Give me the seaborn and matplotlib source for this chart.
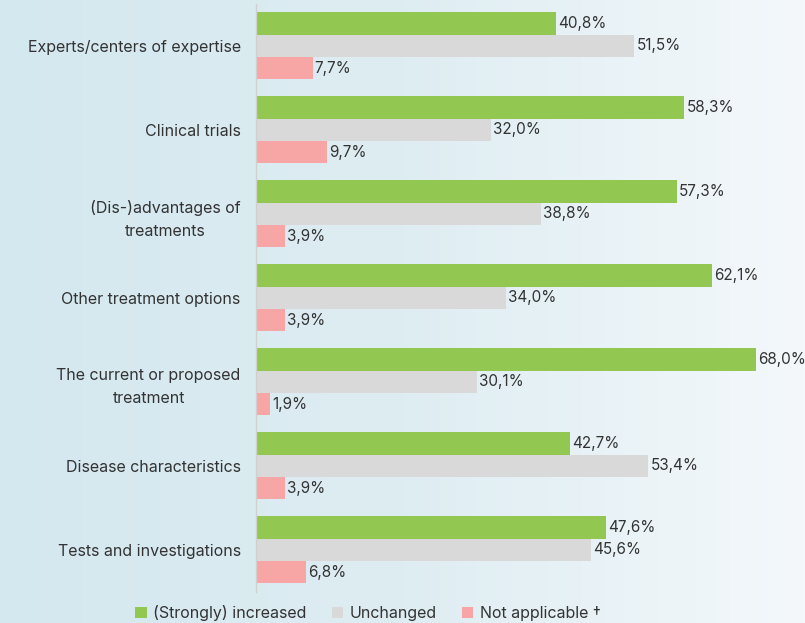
import numpy as np
import pandas as pd
import matplotlib.pyplot as plt
import seaborn as sns
from matplotlib.colors import LinearSegmentedColormap

CATEGORIES = [
    "Experts/centers of expertise",
    "Clinical trials",
    "(Dis-)advantages of\ntreatments",
    "Other treatment options",
    "The current or proposed\ntreatment",
    "Disease characteristics",
    "Tests and investigations",
]
SERIES = ["(Strongly) increased", "Unchanged", "Not applicable \u2020"]
INCREASED = [40.8, 58.3, 57.3, 62.1, 68.0, 42.7, 47.6]
UNCHANGED = [51.5, 32.0, 38.8, 34.0, 30.1, 53.4, 45.6]
NOT_APPLICABLE = [7.7, 9.7, 3.9, 3.9, 1.9, 3.9, 6.8]
COLORS = ["#92c852", "#d9d9d9", "#f8a5a5"]

df = pd.DataFrame({
    "category": CATEGORIES * 3,
    "series": [s for s in SERIES for _ in CATEGORIES],
    "value": INCREASED + UNCHANGED + NOT_APPLICABLE,
})

sns.set_theme(style="white")
plt.rcParams["font.family"] = ["Inter", "DejaVu Sans"]
text_color = "#333333"

fig = plt.figure(figsize=(8.05, 6.23), dpi=100)

# background gradient
bg = fig.add_axes([0, 0, 1, 1], zorder=-10)
grad = np.linspace(0, 1, 256).reshape(1, -1)
bg_cmap = LinearSegmentedColormap.from_list("bg", ["#d4e8ef", "#deedf2", "#f4f8fb"])
bg.imshow(grad, aspect="auto", cmap=bg_cmap, extent=[0, 1, 0, 1])
bg.axis("off")

ax = fig.add_axes([0.318, 0.050, 0.682, 0.944])
ax.patch.set_alpha(0)

sns.barplot(
    data=df,
    y="category",
    x="value",
    hue="series",
    hue_order=SERIES,
    order=CATEGORIES,
    palette=COLORS,
    orient="h",
    width=0.8,
    saturation=1,
    linewidth=0,
    ax=ax,
    legend=True,
)

for container in ax.containers:
    labels = [f"{v:.1f}%".replace(".", ",") for v in container.datavalues]
    ax.bar_label(container, labels=labels, padding=1.5, fontsize=11, color=text_color)

ax.set_xlim(0, 74.7)
ax.set_ylim(6.5, -0.5)
ax.set_xlabel("")
ax.set_ylabel("")
ax.set_xticks([])
ax.tick_params(axis="y", length=0, pad=11, labelsize=11.5, labelcolor=text_color)
for lbl in ax.get_yticklabels():
    lbl.set_multialignment("center")
    lbl.set_linespacing(1.65)

for side in ["top", "right", "bottom"]:
    ax.spines[side].set_visible(False)
ax.spines["left"].set_color("#d0d0d0")
ax.spines["left"].set_linewidth(1)

handles, labels = ax.get_legend_handles_labels()
ax.get_legend().remove()
fig.legend(
    handles, labels,
    loc="center",
    bbox_to_anchor=(0.457, 0.016),
    ncol=3,
    frameon=False,
    fontsize=11.5,
    handlelength=0.7,
    handleheight=0.7,
    handletextpad=0.4,
    columnspacing=1.6,
    labelcolor=text_color,
)

fig.savefig("out.png", dpi=100)
